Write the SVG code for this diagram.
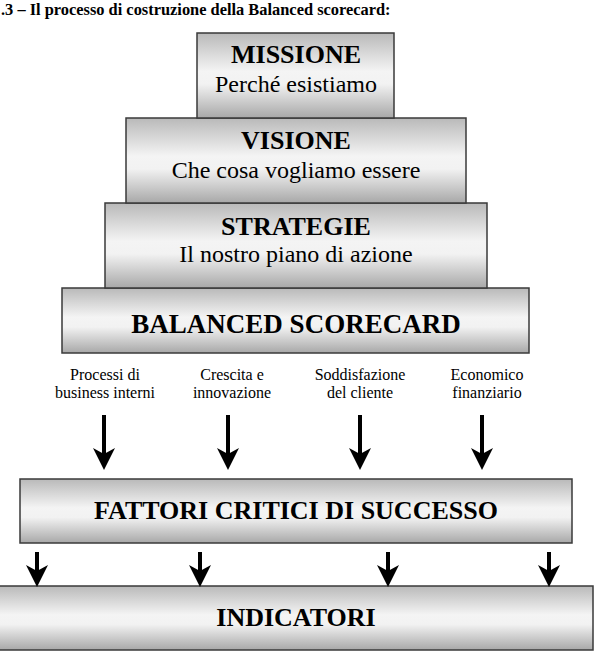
<svg xmlns="http://www.w3.org/2000/svg" width="596" height="660" viewBox="0 0 596 660">
<defs>
<linearGradient id="g" x1="0" y1="0" x2="0" y2="1">
<stop offset="0" stop-color="#b9b9b9"/>
<stop offset="0.45" stop-color="#f4f4f4"/>
<stop offset="0.6" stop-color="#f2f2f2"/>
<stop offset="1" stop-color="#a8a8a8"/>
</linearGradient>
<marker id="ah" viewBox="0 0 22 22" refX="6" refY="11" markerWidth="22" markerHeight="22" markerUnits="userSpaceOnUse" orient="auto">
<path d="M0,0 L22,11 L0,22 L6,11 Z" fill="#000"/>
</marker>
<style>
.box{fill:url(#g);stroke:#3a3a3a;stroke-width:1.5}
.t{font-family:"Liberation Serif","Times New Roman",serif;font-weight:bold;font-size:26px;text-anchor:middle;fill:#000}
.s{font-family:"Liberation Serif","Times New Roman",serif;font-size:24px;text-anchor:middle;fill:#000}
.l{font-family:"Liberation Serif","Times New Roman",serif;font-size:16px;text-anchor:middle;fill:#000}
.arr{stroke:#000;stroke-width:4;fill:none;marker-end:url(#ah)}
</style>
</defs>
<rect width="596" height="660" fill="#fff"/>
<text x="1" y="15" style="font-family:'Liberation Serif','Times New Roman',serif;font-weight:bold;font-size:16.4px">.3 – Il processo di costruzione della Balanced scorecard:</text>

<g id="bsc">
<rect class="box" x="62" y="288" width="467" height="65"/>
<text class="t" x="296" y="333" style="font-size:27px">BALANCED SCORECARD</text>
</g>
<g id="strategie">
<rect class="box" x="105" y="203" width="382" height="85"/>
<text class="t" x="296" y="235">STRATEGIE</text>
<text class="s" x="296" y="262">Il nostro piano di azione</text>
</g>
<g id="visione">
<rect class="box" x="126" y="118" width="340" height="85"/>
<text class="t" x="296" y="149">VISIONE</text>
<text class="s" x="296" y="178">Che cosa vogliamo essere</text>
</g>
<g id="missione">
<rect class="box" x="197" y="33" width="197" height="85"/>
<text class="t" x="296" y="63">MISSIONE</text>
<text class="s" x="296" y="92">Perché esistiamo</text>
</g>

<g id="labels">
<text class="l" x="105" y="380">Processi di</text>
<text class="l" x="105" y="398">business interni</text>
<text class="l" x="232" y="380">Crescita e</text>
<text class="l" x="232" y="398">innovazione</text>
<text class="l" x="360" y="380">Soddisfazione</text>
<text class="l" x="360" y="398">del cliente</text>
<text class="l" x="487" y="380">Economico</text>
<text class="l" x="487" y="398">finanziario</text>
</g>

<g id="fattori">
<rect class="box" x="20" y="479" width="552" height="64"/>
<text class="t" x="296" y="519">FATTORI CRITICI DI SUCCESSO</text>
</g>
<g id="indicatori">
<rect class="box" x="-1" y="586" width="594" height="64"/>
<text class="t" x="296" y="626">INDICATORI</text>
</g>

<g id="connectors">
<line class="arr" x1="104" y1="415" x2="104" y2="454"/>
<line class="arr" x1="228" y1="415" x2="228" y2="454"/>
<line class="arr" x1="360" y1="415" x2="360" y2="454"/>
<line class="arr" x1="482" y1="415" x2="482" y2="454"/>
<line class="arr" x1="37" y1="552" x2="37" y2="571"/>
<line class="arr" x1="200" y1="552" x2="200" y2="571"/>
<line class="arr" x1="388" y1="552" x2="388" y2="571"/>
<line class="arr" x1="549" y1="552" x2="549" y2="571"/>
</g>
</svg>
